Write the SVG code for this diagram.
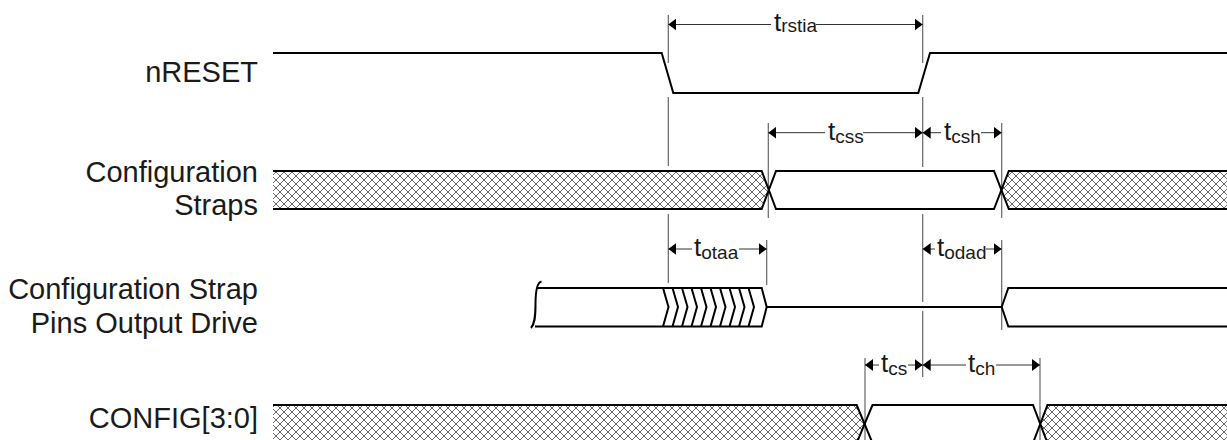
<svg xmlns="http://www.w3.org/2000/svg" width="1227" height="440" viewBox="0 0 1227 440">
<style>
.lbl{font-family:"Liberation Sans",Arial,sans-serif;font-size:29px;fill:#1a1a1a;text-anchor:end}
.tl{font-family:"Liberation Sans",Arial,sans-serif;font-size:26px;fill:#1a1a1a}
.sub{font-size:19px}
.wave{fill:none;stroke:#000;stroke-width:2;stroke-linejoin:miter}
.hatch{fill:url(#xh);stroke:none}
.ref{stroke:#666;stroke-width:1.2;fill:none}
.dim{stroke:#333;stroke-width:1;fill:none}
.ds{marker-start:url(#ah)}
.de{marker-end:url(#ah)}
</style>
<defs>
<pattern id="xh" width="8" height="8" patternUnits="userSpaceOnUse">
<rect width="8" height="8" fill="#fff"/>
<path d="M0,0 L8,8 M8,0 L0,8" stroke="#6a6a6a" stroke-width="1"/>
</pattern>
<marker id="ah" viewBox="0 0 8 12" refX="8" refY="6" markerWidth="8" markerHeight="12" markerUnits="userSpaceOnUse" orient="auto-start-reverse">
<path d="M0,0 L8,6 L0,12 z" fill="#000"/>
</marker>
</defs>
<rect width="1227" height="440" fill="#fff"/>

<g id="connectors">
<path class="ref" d="M668.3,15 V63 M668.3,97 V166 M668.3,214 V283"/>
<path class="ref" d="M922.7,15 V63 M922.7,97 V167 M922.7,214 V302 M922.7,311 V377"/>
<path class="ref" d="M768.3,123 V218"/>
<path class="ref" d="M1001.7,123 V218"/>
<path class="ref" d="M766.7,240 V285"/>
<path class="ref" d="M1001.7,240 V330"/>
<path class="ref" d="M865,358 V440"/>
<path class="ref" d="M1040,358 V440"/>
<path class="dim ds" d="M668.3,24.5 H771"/><path class="dim de" d="M816,24.5 H922.7"/>
<path class="dim ds" d="M768.3,132.7 H825"/><path class="dim de" d="M863,132.7 H922.7"/>
<path class="dim ds" d="M922.7,132.7 H941"/><path class="dim de" d="M981,132.7 H1001.7"/>
<path class="dim ds" d="M668.3,249 H692"/><path class="dim de" d="M739,249 H766.7"/>
<path class="dim ds" d="M922.7,249 H935"/><path class="dim de" d="M986,249 H1001.7"/>
<path class="dim ds" d="M865,365 H879"/><path class="dim de" d="M908,365 H922.7"/>
<path class="dim ds" d="M922.7,365 H966"/><path class="dim de" d="M996,365 H1040"/>
<text class="tl" x="774" y="31">t<tspan class="sub" dy="1">rstia</tspan></text>
<text class="tl" x="828" y="140">t<tspan class="sub" dy="3">css</tspan></text>
<text class="tl" x="944" y="140">t<tspan class="sub" dy="3">csh</tspan></text>
<text class="tl" x="694" y="256">t<tspan class="sub" dy="3">otaa</tspan></text>
<text class="tl" x="937" y="256">t<tspan class="sub" dy="3">odad</tspan></text>
<text class="tl" x="881" y="372">t<tspan class="sub" dy="3">cs</tspan></text>
<text class="tl" x="968" y="372">t<tspan class="sub" dy="3">ch</tspan></text>
</g>

<g id="nreset">
<text class="lbl" x="258" y="82">nRESET</text>
<path class="wave" d="M273,53 H661.7 L673.3,93 H918.3 L930,53 H1227"/>
</g>

<g id="config-straps">
<text class="lbl" x="258" y="182">Configuration</text>
<text class="lbl" x="258" y="215">Straps</text>
<path class="hatch" d="M273,171 H761.7 L768.8,190 L761.7,209 H273 Z"/>
<path class="hatch" d="M1227,171 H1008.8 L1001.7,190 L1008.8,209 H1227 Z"/>
<path class="wave" d="M273,171 H761.7 L776,209 H994 L1008.8,171 H1227"/>
<path class="wave" d="M273,209 H761.7 L776,171 H994 L1008.8,209 H1227"/>
</g>

<g id="strap-output-drive">
<text class="lbl" x="258" y="299">Configuration Strap</text>
<text class="lbl" x="258" y="333">Pins Output Drive</text>
<path class="wave" d="M541.5,281.5 C537,282.5 535.5,290 535.5,304 C535.5,318 534.5,324 531,328"/>
<path class="wave" d="M537,288 H761.7 L766.7,307 L761.7,326.5 H535"/>
<path class="wave" stroke-width="1.6" d="M663,288 L668.5,307 L663,326.5 M672.5,288 L678,307 L672.5,326.5 M682,288 L687.5,307 L682,326.5 M691.5,288 L697,307 L691.5,326.5 M701,288 L706.5,307 L701,326.5 M710.5,288 L716,307 L710.5,326.5 M720,288 L725.5,307 L720,326.5 M729.5,288 L735,307 L729.5,326.5 M739,288 L744.5,307 L739,326.5 M748.5,288 L754,307 L748.5,326.5"/>
<path class="wave" d="M766.7,307 H1001.7 M1227,288 H1008.3 L1001.7,307 L1008.3,326.5 H1227"/>
</g>

<g id="config-3-0">
<text class="lbl" x="258" y="428">CONFIG[3:0]</text>
<path class="hatch" d="M273,405 H856.7 L864.5,424 L856.7,443 H273 Z"/>
<path class="hatch" d="M1227,405 H1047.5 L1040,424 L1047.5,443 H1227 Z"/>
<path class="wave" d="M273,405 H856.7 L872.5,443"/>
<path class="wave" d="M856.7,443 L872.5,405 H1033 L1047.5,443"/>
<path class="wave" d="M1033,443 L1047.5,405 H1227"/>
</g>
</svg>
